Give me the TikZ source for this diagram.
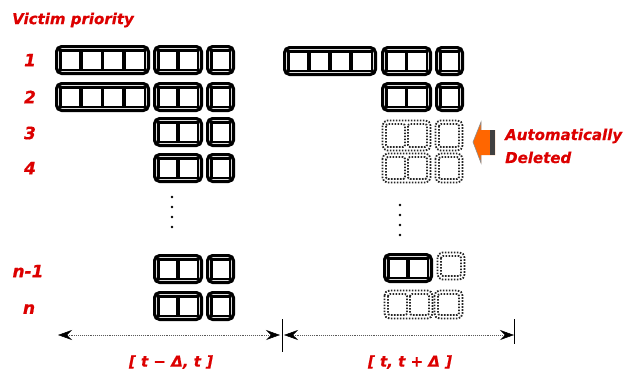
\documentclass[tikz,border=0pt]{standalone}
\usepackage{fontspec}
\setmainfont{DejaVu Sans}
\newfontfamily\lblfont{DejaVu Sans}[BoldItalicFeatures={FakeBold=0.6}]
\usetikzlibrary{arrows.meta}
\definecolor{lblred}{RGB}{220,0,0}
\definecolor{arrorange}{RGB}{255,102,0}
\tikzset{
  lbl/.style={text=lblred, font=\lblfont\fontsize{15}{18}\selectfont\bfseries\itshape, inner sep=0pt},
  numlbl/.style={lbl, font=\lblfont\fontsize{17}{20}\selectfont\bfseries\itshape},
  dotline/.style={draw=black!85, line width=1.8pt, dash pattern=on 1.6pt off 1.4pt},
  axisline/.style={draw=black!65, line width=0.9pt, densely dotted},
  axtip/.tip={Stealth[length=14pt,width=10pt,inset=5pt,black,line width=0.5pt]},
  tick/.style={draw=black, line width=0.9pt},
  vdot/.style={fill=black}
}
\newcommand\solidgrp[5]{%
  \draw[line width=3.2pt, rounded corners=5pt] ({#1+1.6},{#2+1.6}) rectangle ({#3-1.6},{#4-1.6});
  \fill ({#1+4.3},{#2+4.3}) rectangle ({#3-4.3},{#4-4.3});
  \pgfmathsetmacro\grpcw{(#3-#1-13-3.5*(#5-1))/#5}
  \foreach \i in {1,...,#5}{%
    \fill[white] ({#1+6.5+(\i-1)*(\grpcw+3.5)},{#2+6.5}) rectangle ({#1+6.5+(\i-1)*(\grpcw+3.5)+\grpcw},{#4-6.5});}
}
\newcommand\dotgrp[5]{%
  \draw[dotline, rounded corners=5pt] ({#1+1.5},{#2+1.5}) rectangle ({#3-1.5},{#4-1.5});
  \pgfmathsetmacro\grpcw{(#3-#1-10-3*(#5-1))/#5}
  \foreach \i in {1,...,#5}{%
    \draw[dotline, rounded corners=2pt] ({#1+5+(\i-1)*(\grpcw+3)},{#2+5}) rectangle ({#1+5+(\i-1)*(\grpcw+3)+\grpcw},{#4-5});}
}
\begin{document}
\begin{tikzpicture}[x=1pt,y=-1pt]
\useasboundingbox (0,0) rectangle (640,373);

% title and priority labels
\node[lbl, anchor=west] (title) at (12,20) {Victim priority};
\node[numlbl] (p1) at (30,60) {1};
\node[numlbl] (p2) at (30,97) {2};
\node[numlbl] (p3) at (30,133) {3};
\node[numlbl] (p4) at (30,168) {4};
\node[numlbl] (pn1) at (28,271) {n-1};
\node[numlbl] (pn) at (29,309) {n};

% left column (interval [t-D,t])
\solidgrp{55}{45}{150}{75}{4}
\solidgrp{153}{45}{203}{75}{2}
\solidgrp{206}{45}{235}{75}{1}
\solidgrp{55}{82}{150}{112}{4}
\solidgrp{153}{82}{203}{112}{2}
\solidgrp{206}{82}{235}{112}{1}
\solidgrp{153}{117}{203}{147}{2}
\solidgrp{206}{117}{235}{147}{1}
\solidgrp{153}{153}{203}{183}{2}
\solidgrp{206}{153}{235}{183}{1}
\solidgrp{153}{254}{203}{284}{2}
\solidgrp{206}{254}{235}{284}{1}
\solidgrp{153}{291}{203}{321}{2}
\solidgrp{206}{291}{235}{321}{1}

% right column (interval [t,t+D])
\solidgrp{283}{46}{377}{76}{4}
\solidgrp{381}{46}{432}{76}{2}
\solidgrp{435}{46}{464}{76}{1}
\solidgrp{381}{82}{432}{112}{2}
\solidgrp{435}{82}{464}{112}{1}
\dotgrp{381}{119}{432}{152}{2}
\dotgrp{434}{119}{464}{152}{1}
\dotgrp{381}{152}{432}{184}{2}
\dotgrp{434}{152}{464}{184}{1}
\solidgrp{383}{253}{433}{283}{2}
\dotgrp{436}{251}{466}{281}{1}
\dotgrp{383}{289}{434}{320}{2}
\dotgrp{433}{289}{464}{320}{1}

% vertical ellipsis dots
\foreach \yy in {197,207,217,227} \fill[vdot] (172,\yy) circle (1.4);
\foreach \yy in {205,215,225,235} \fill[vdot] (400,\yy) circle (1.4);

% automatically deleted arrow
\fill[arrorange] (473,142) -- (481,122) -- (481,130) -- (495,130) -- (495,155) -- (481,155) -- (481,163) -- cycle;
\fill[black!75] (490,130) rectangle (495,155);
\draw[black!45, line width=0.6pt] (481,130) -- (481,122) -- (473,142) -- (481,163) -- (481,155);
\node[lbl, anchor=base west] (ad1) at (505,140) {Automatically};
\node[lbl, anchor=base west] (ad2) at (505,163) {Deleted};

% time axis
\coordinate (a0) at (58,335);
\coordinate (a1) at (282,335);
\coordinate (a2) at (514,335);
\draw[axisline, axtip-axtip, shorten >=2pt] (a0) -- (a1);
\draw[axisline, axtip-axtip, shorten <=2pt] (a1) -- (a2);
\draw[tick] (282,319) -- (282,352);
\draw[tick] (514,319) -- (514,344);
\node[lbl] (int1) at (171,362) {[ t − Δ, t ]};
\node[lbl] (int2) at (410,362) {[ t, t + Δ ]};
\end{tikzpicture}
\end{document}
